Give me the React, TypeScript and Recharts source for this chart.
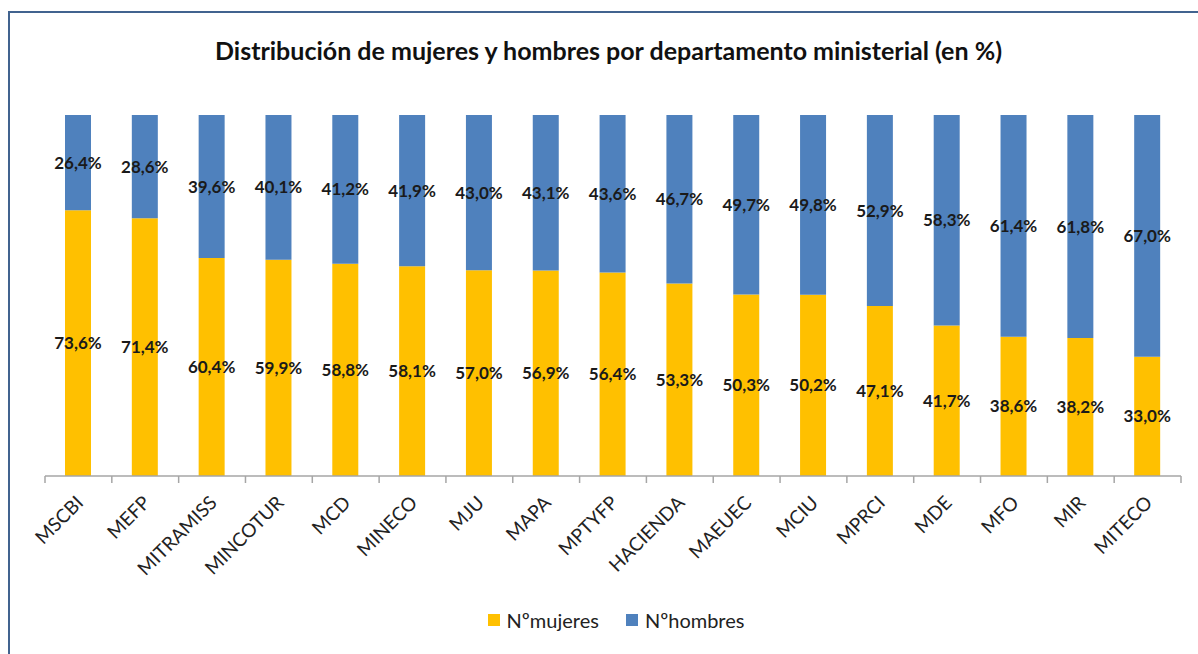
import { BarChart, Bar, XAxis, YAxis, Legend, LabelList } from 'recharts';

const departamentos = [
  'MSCBI', 'MEFP', 'MITRAMISS', 'MINCOTUR', 'MCD', 'MINECO', 'MJU', 'MAPA', 'MPTYFP',
  'HACIENDA', 'MAEUEC', 'MCIU', 'MPRCI', 'MDE', 'MFO', 'MIR', 'MITECO',
];
const mujeres = [73.6, 71.4, 60.4, 59.9, 58.8, 58.1, 57.0, 56.9, 56.4, 53.3, 50.3, 50.2, 47.1, 41.7, 38.6, 38.2, 33.0];
const hombres = [26.4, 28.6, 39.6, 40.1, 41.2, 41.9, 43.0, 43.1, 43.6, 46.7, 49.7, 49.8, 52.9, 58.3, 61.4, 61.8, 67.0];
const seriesNames = ['Nºmujeres', 'Nºhombres'];
const title = 'Distribución de mujeres y hombres por departamento ministerial (en %)';

const chartData = departamentos.map((name, i) => ({
  name,
  mujeres: mujeres[i],
  hombres: hombres[i],
}));

const W = 1198;
const H = 654;
const margin = { top: 115, right: 17, left: 45, bottom: 22 };
const band = (W - margin.left - margin.right) / departamentos.length;
const YELLOW = '#FFC000';
const BLUE = '#4F81BD';
const AXIS = '#A6A6A6';

const pct = (v: any) => Number(v).toFixed(1).replace('.', ',') + '%';

function DeptTick(props: any) {
  const { x, y, payload, index } = props;
  const last = index === departamentos.length - 1;
  return (
    <g>
      <line x1={x - band / 2} y1={y} x2={x - band / 2} y2={y + 7} stroke={AXIS} strokeWidth={1.5} />
      {last && <line x1={x + band / 2} y1={y} x2={x + band / 2} y2={y + 7} stroke={AXIS} strokeWidth={1.5} />}
      <text
        transform={`translate(${x + 6},${y + 28}) rotate(-45)`}
        textAnchor="end"
        fontSize={19}
        fill="#222"
      >
        {payload.value}
      </text>
    </g>
  );
}

function LegendBox() {
  const colors = [YELLOW, BLUE];
  return (
    <div style={{ display: 'flex', justifyContent: 'center', alignItems: 'center', gap: 27, fontSize: 20, color: '#222', paddingLeft: 6 }}>
      {seriesNames.map((s, i) => (
        <div key={s} style={{ display: 'flex', alignItems: 'center', gap: 7 }}>
          <span style={{ width: 12, height: 12, background: colors[i], display: 'inline-block' }} />
          <span>{s}</span>
        </div>
      ))}
    </div>
  );
}

export default function App() {
  return (
    <div style={{ position: 'fixed', left: 0, top: 0, width: W, height: H, overflow: 'hidden', background: '#fff', fontFamily: 'Lato, sans-serif' }}>
      <div style={{ position: 'absolute', left: 8, top: 11, width: 1300, height: 800, border: '2px solid #41638F' }} />
      <div style={{ position: 'absolute', left: 0, top: 34, width: 1217, textAlign: 'center', fontSize: 25, fontWeight: 700, lineHeight: '32px', color: '#111' }}>
        {title}
      </div>
      <div style={{ position: 'absolute', left: 0, top: 0 }}>
        <BarChart width={W} height={H} data={chartData} margin={margin}>
          <XAxis
            dataKey="name"
            height={132}
            interval={0}
            tickSize={0}
            tickMargin={0}
            tickLine={false}
            axisLine={{ stroke: AXIS, strokeWidth: 1.5 }}
            tick={<DeptTick />}
          />
          <YAxis hide domain={[0, 100]} />
          <Legend verticalAlign="bottom" content={<LegendBox />} />
          <Bar dataKey="mujeres" name={seriesNames[0]} stackId="a" fill={YELLOW} barSize={26} isAnimationActive={false}>
            <LabelList dataKey="mujeres" position="center" formatter={pct} fill="#1a1a1a" fontSize={17} fontWeight={700} />
          </Bar>
          <Bar dataKey="hombres" name={seriesNames[1]} stackId="a" fill={BLUE} barSize={26} isAnimationActive={false}>
            <LabelList dataKey="hombres" position="center" formatter={pct} fill="#1a1a1a" fontSize={17} fontWeight={700} />
          </Bar>
        </BarChart>
      </div>
    </div>
  );
}
